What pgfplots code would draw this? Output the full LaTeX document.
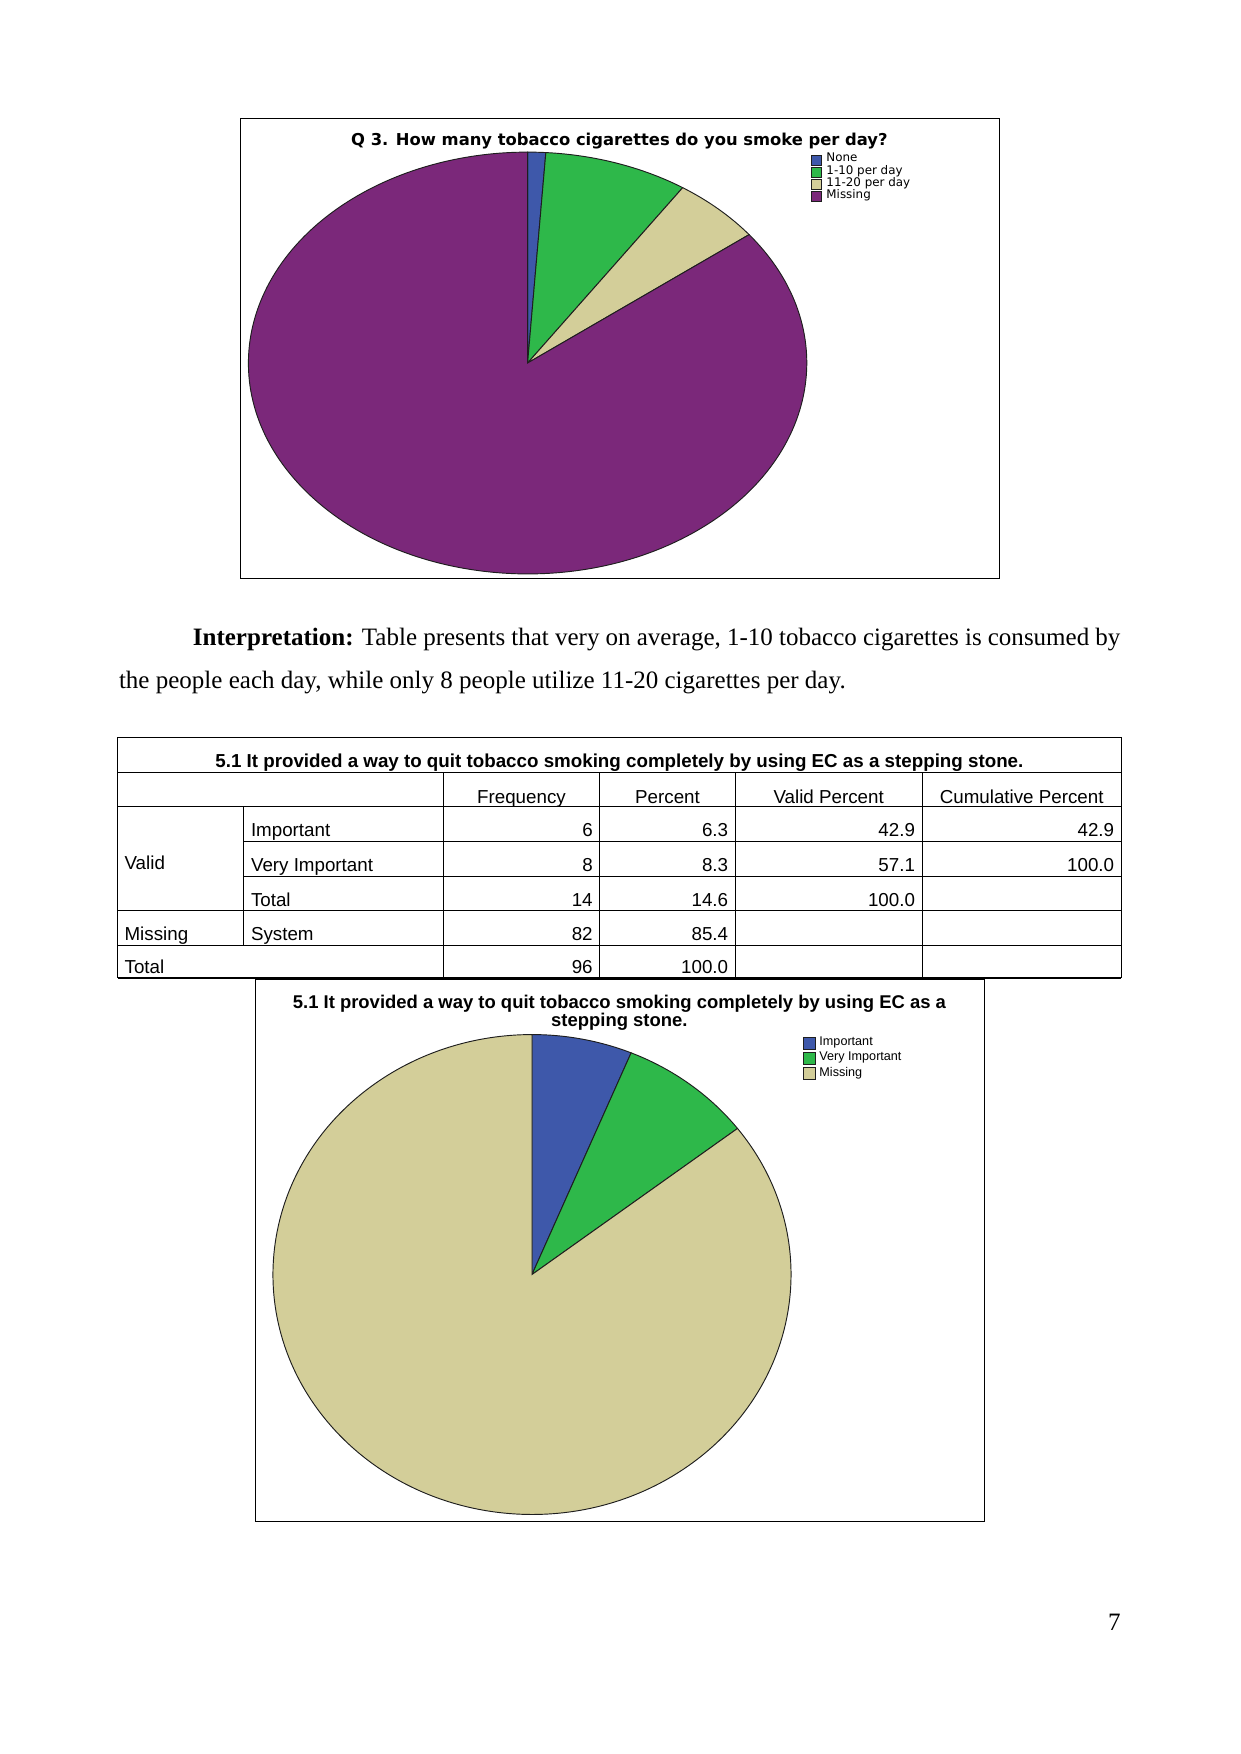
\documentclass[border=0pt]{standalone}
\usepackage{pgfplots}
\pgfplotsset{compat=1.18}
\usepackage{fontspec}
\setmainfont{Liberation Serif}
\newfontfamily\arial{Liberation Sans}
\newfontfamily\dejavu{DejaVu Sans}
\definecolor{pblue}{RGB}{62,88,170}
\definecolor{pgreen}{RGB}{46,184,74}
\definecolor{ptan}{RGB}{211,206,153}
\definecolor{ppurple}{RGB}{123,40,122}
\definecolor{pline}{RGB}{30,30,30}
% counts: pie 1 = None 1, 1-10 per day 8, 11-20 per day 5, Missing 82 (N = 96)
\pgfmathsetmacro\Aa{90}
\pgfmathsetmacro\Ab{90-1/96*360}
\pgfmathsetmacro\Ac{90-(1+8)/96*360}
\pgfmathsetmacro\Ad{90-(1+8+5)/96*360}
\pgfmathsetmacro\Ae{90-(1+8+5+82)/96*360}
% counts: pie 2 = Important 6, Very Important 8, Missing 82 (N = 96)
\pgfmathsetmacro\Ba{90}
\pgfmathsetmacro\Bb{90-6/96*360}
\pgfmathsetmacro\Bc{90-(6+8)/96*360}
\pgfmathsetmacro\Bd{90-(6+8+82)/96*360}
% slice: color, start angle, end angle, x radius, y radius
\newcommand{\slice}[5]{%
  \pgfmathsetmacro\sx{cos(#2)}\pgfmathsetmacro\sy{sin(#2)}%
  \edef\slicecmd{\noexpand\fill[#1,draw=pline,line width=0.45pt] (axis cs:0,0) -- (axis cs:\sx,\sy) \noexpand\pgfextra{\noexpand\pgfpatharc{#2}{#3}{#4 and #5}} -- cycle;}%
  \slicecmd}
\begin{document}
\begin{tikzpicture}
\begin{scope}[x=0.47968pt,y=-0.47968pt]
\path[use as bounding box] (0,0) rectangle (1241,1754);
\coordinate (c1) at (527.6,363.0);
\coordinate (c2) at (532.0,1274.5);
% frames
\draw[line width=0.5pt] (240.6,118.6) rectangle (999.3,578.5);
\draw[line width=0.5pt] (255.1,979.1) rectangle (984.7,1521.8);
% chart titles
\node[anchor=base,inner sep=0pt] at (619.4,145.5) {\dejavu\bfseries\fontsize{7.85}{9}\selectfont Q 3. How many tobacco cigarettes do you smoke per day?};
\node[anchor=base,inner sep=0pt] at (619.4,1008.3) {\arial\bfseries\fontsize{8.85}{9.5}\selectfont 5.1 It provided a way to quit tobacco smoking completely by using EC as a};
\node[anchor=base,inner sep=0pt] at (619.4,1026.6) {\arial\bfseries\fontsize{8.85}{9.5}\selectfont stepping stone.};
% paragraph
\node[anchor=base west,inner sep=0pt] at (192.5,645.0) {\fontsize{12}{14}\selectfont\makebox[444.9pt][s]{\textbf{Interpretation:} Table presents that very on average, 1-10 tobacco cigarettes is consumed by}};
\node[anchor=base west,inner sep=0pt] at (118.6,688.5) {\fontsize{12}{14}\selectfont the people each day, while only 8 people utilize 11-20 cigarettes per day.};
% page number
\node[anchor=base east,inner sep=0pt] at (1121.0,1630.0) {\fontsize{12}{14}\selectfont 7};
% table lines
\begin{scope}[line width=0.5pt]
\draw (117.5,737.4) -- (1121.2,737.4);
\draw (117.5,772.1) -- (1121.2,772.1);
\draw (117.5,806.8) -- (1121.2,806.8);
\draw (243.9,841.5) -- (1121.2,841.5);
\draw (243.9,876.2) -- (1121.2,876.2);
\draw (117.5,910.9) -- (1121.2,910.9);
\draw (117.5,945.6) -- (1121.2,945.6);
\draw (117.5,978.0) -- (1121.2,978.0);
\draw (117.5,737.4) -- (117.5,978.0);
\draw (1121.2,737.4) -- (1121.2,978.0);
\draw (243.9,806.8) -- (243.9,945.6);
\draw (443.1,772.1) -- (443.1,978.0);
\draw (599.8,772.1) -- (599.8,978.0);
\draw (735.2,772.1) -- (735.2,978.0);
\draw (922.1,772.1) -- (922.1,978.0);
\end{scope}
% table text
\begin{scope}[every node/.style={inner sep=0pt,font=\arial\fontsize{9}{11}\selectfont}]
\node[anchor=base] at (619.35,767.6) {\bfseries 5.1 It provided a way to quit tobacco smoking completely by using EC as a stepping stone.};
\node[anchor=base] at (521.45,803.2) {Frequency};
\node[anchor=base] at (667.5,803.2) {Percent};
\node[anchor=base] at (828.65,803.2) {Valid Percent};
\node[anchor=base] at (1021.65,803.2) {Cumulative Percent};
\node[anchor=base west] at (124.2,869.6) {Valid};
\node[anchor=base west] at (250.6,836.8) {Important};
\node[anchor=base west] at (250.6,871.5) {Very Important};
\node[anchor=base west] at (250.6,906.2) {Total};
\node[anchor=base west] at (124.2,940.9) {Missing};
\node[anchor=base west] at (250.6,940.9) {System};
\node[anchor=base west] at (124.2,973.5) {Total};
\node[anchor=base east] at (593.1,836.8) {6};
\node[anchor=base east] at (728.5,836.8) {6.3};
\node[anchor=base east] at (915.4,836.8) {42.9};
\node[anchor=base east] at (1114.5,836.8) {42.9};
\node[anchor=base east] at (593.1,871.5) {8};
\node[anchor=base east] at (728.5,871.5) {8.3};
\node[anchor=base east] at (915.4,871.5) {57.1};
\node[anchor=base east] at (1114.5,871.5) {100.0};
\node[anchor=base east] at (593.1,906.2) {14};
\node[anchor=base east] at (728.5,906.2) {14.6};
\node[anchor=base east] at (915.4,906.2) {100.0};
\node[anchor=base east] at (593.1,940.9) {82};
\node[anchor=base east] at (728.5,940.9) {85.4};
\node[anchor=base east] at (593.1,973.5) {96};
\node[anchor=base east] at (728.5,973.5) {100.0};
\end{scope}
\end{scope}
% ---------- pie 1
\begin{axis}[at={(c1)}, anchor=center, scale only axis,
  width=267.85pt, height=202.33pt, disabledatascaling,
  xmin=-1, xmax=1, ymin=-1, ymax=1, hide axis, clip=false,
  legend style={at={(rel axis cs:1.008,0.9962)}, anchor=north west,
    draw=none, fill=none, inner sep=0pt, outer sep=0pt,
    row sep=0pt, column sep=2.2pt,
    font=\dejavu\fontsize{5.7}{5.9}\selectfont,
    nodes={inner sep=0pt, text height=3.9pt, text depth=2.0pt}},
  legend cell align=left]
\slice{pblue}{\Aa}{\Ab}{133.925pt}{101.165pt}
\slice{pgreen}{\Ab}{\Ac}{133.925pt}{101.165pt}
\slice{ptan}{\Ac}{\Ad}{133.925pt}{101.165pt}
\slice{ppurple}{\Ad}{\Ae}{133.925pt}{101.165pt}
\addlegendimage{legend image code/.code={\draw[fill=pblue,draw=pline,line width=0.3pt] (0pt,-2.4pt) rectangle (4.8pt,2.4pt);}}
\addlegendentry{None}
\addlegendimage{legend image code/.code={\draw[fill=pgreen,draw=pline,line width=0.3pt] (0pt,-2.4pt) rectangle (4.8pt,2.4pt);}}
\addlegendentry{1-10 per day}
\addlegendimage{legend image code/.code={\draw[fill=ptan,draw=pline,line width=0.3pt] (0pt,-2.4pt) rectangle (4.8pt,2.4pt);}}
\addlegendentry{11-20 per day}
\addlegendimage{legend image code/.code={\draw[fill=ppurple,draw=pline,line width=0.3pt] (0pt,-2.4pt) rectangle (4.8pt,2.4pt);}}
\addlegendentry{Missing}
\end{axis}
% ---------- pie 2
\begin{axis}[at={(c2)}, anchor=center, scale only axis,
  width=248.52pt, height=230.2pt, disabledatascaling,
  xmin=-1, xmax=1, ymin=-1, ymax=1, hide axis, clip=false,
  legend style={at={(rel axis cs:1.0239,0.9975)}, anchor=north west,
    draw=none, fill=none, inner sep=0pt, outer sep=0pt,
    row sep=0pt, column sep=2.0pt,
    font=\arial\fontsize{6.05}{7.2}\selectfont,
    nodes={inner sep=0pt, text height=4.9pt, text depth=2.3pt}},
  legend cell align=left]
\slice{pblue}{\Ba}{\Bb}{124.26pt}{115.1pt}
\slice{pgreen}{\Bb}{\Bc}{124.26pt}{115.1pt}
\slice{ptan}{\Bc}{\Bd}{124.26pt}{115.1pt}
\addlegendimage{legend image code/.code={\draw[fill=pblue,draw=pline,line width=0.3pt] (0pt,-2.7pt) rectangle (5.4pt,2.7pt);}}
\addlegendentry{Important}
\addlegendimage{legend image code/.code={\draw[fill=pgreen,draw=pline,line width=0.3pt] (0pt,-2.7pt) rectangle (5.4pt,2.7pt);}}
\addlegendentry{Very Important}
\addlegendimage{legend image code/.code={\draw[fill=ptan,draw=pline,line width=0.3pt] (0pt,-2.7pt) rectangle (5.4pt,2.7pt);}}
\addlegendentry{Missing}
\end{axis}
\end{tikzpicture}
\end{document}
